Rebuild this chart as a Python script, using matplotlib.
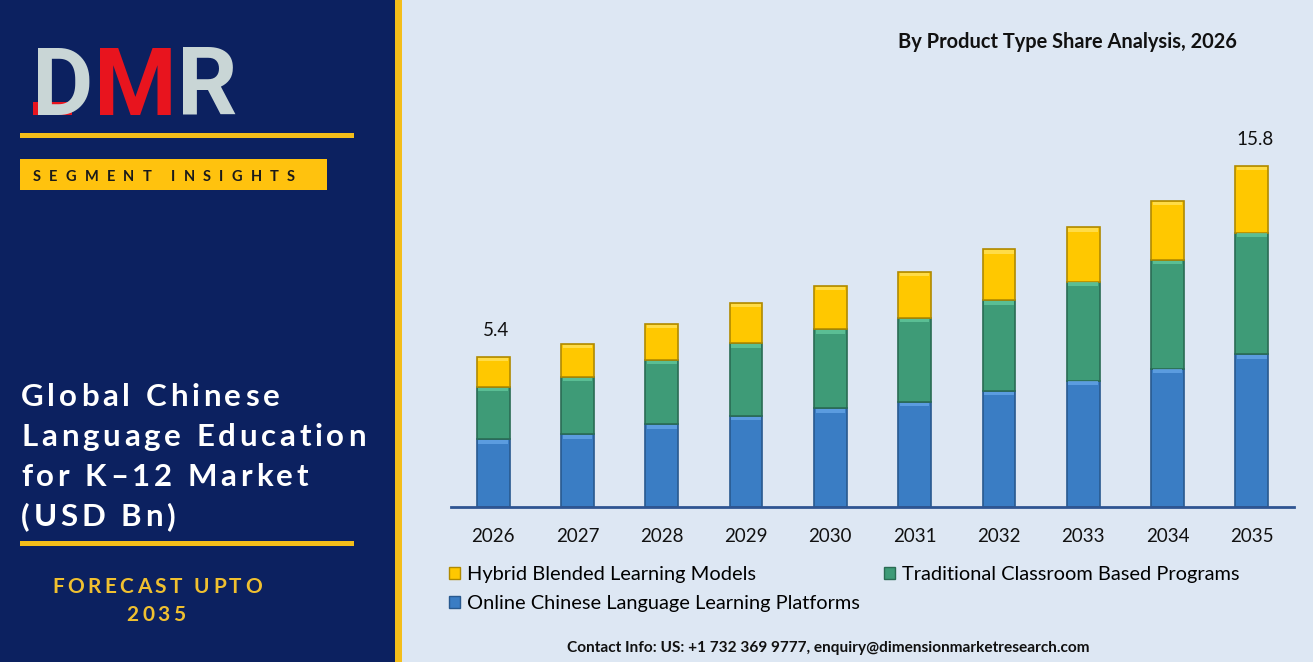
import matplotlib
matplotlib.use("Agg")
import matplotlib.pyplot as plt
from matplotlib.patches import Rectangle, Patch
import numpy as np

# data (USD Bn)
years = ["2026", "2027", "2028", "2029", "2030", "2031", "2032", "2033", "2034", "2035"]
online = [2.43, 2.61, 2.97, 3.28, 3.55, 3.78, 4.18, 4.55, 4.98, 5.50]
traditional = [1.90, 2.08, 2.32, 2.61, 2.85, 3.03, 3.27, 3.57, 3.92, 4.39]
hybrid = [1.07, 1.18, 1.30, 1.46, 1.56, 1.66, 1.83, 1.96, 2.14, 2.41]
total_labels = ["5.4", "", "", "", "", "", "", "", "", "15.8"]

W, H = 1313, 668
NAVY = "#0C2160"
GOLD = "#F4BE1A"
BG = "#DDE7F3"
FONT = ["Lato", "DejaVu Sans"]

fig = plt.figure(figsize=(W / 100, H / 100), dpi=100, facecolor=BG)
r = fig.canvas.get_renderer()


def fx(x):
    return x / W


def fy(y):
    return 1 - y / H


def rect(x0, y0, x1, y1, color):
    fig.patches.append(Rectangle((fx(x0), fy(y1)), fx(x1) - fx(x0), fy(y0) - fy(y1),
                                 transform=fig.transFigure, facecolor=color,
                                 edgecolor="none", zorder=0))


def spaced(x, y, s, size, color, gap, ha="left", weight="bold", family=FONT):
    # letter spaced text, one glyph at a time
    widths = []
    for ch in s:
        if ch == " ":
            widths.append(size * 100 / 72 * 0.25)
            continue
        t = fig.text(0, 0, ch, fontsize=size, fontweight=weight, family=family)
        widths.append(t.get_window_extent(r).width)
        t.remove()
    total = sum(widths) + gap * (len(s) - 1)
    if ha == "center":
        x = x - total / 2
    out = []
    for ch, w in zip(s, widths):
        if ch != " ":
            out.append(fig.text(fx(x), fy(y), ch, fontsize=size, fontweight=weight,
                                family=family, color=color, va="baseline", ha="left"))
        x += w + gap
    return out


# left panel
rect(0, 0, 395, H, NAVY)
rect(395, 0, 402, H, GOLD)
rect(0, 662, W, H, "white")

# logo
logo = spaced(32, 115, "DMR", 68, "#C9D6D6", 0.5, weight="bold", family=["Roboto"])
logo[1].set_color("#E8141E")
rect(33, 102, 72, 115, "#E8141E")

rect(20, 133, 354, 138, GOLD)
rect(20, 159, 327, 190, "#FFC20E")
spaced(33, 181, "SEGMENT INSIGHTS", 10.5, "#1A1A1A", 8.2)

title_lines = ["Global Chinese", "Language Education", "for K\u201312 Market", "(USD Bn)"]
for i, line in enumerate(title_lines):
    spaced(21, 406 + 40 * i, line, 22.5, "white", 3.8)

rect(20, 541, 354, 546, GOLD)
spaced(157, 593, "FORECAST UPTO", 15, "#F0C030", 3.4, ha="center")
spaced(156, 621, "2035", 15, "#F0C030", 3.4, ha="center")

# chart
px_per_unit = 27.72
ax_top, ax_base = 140, 506.7
ax = fig.add_axes([fx(451), fy(ax_base), fx(1294) - fx(451), (ax_base - ax_top) / H])
ax.set_facecolor("none")

x = np.arange(len(years))
bw = 0.39
series = [
    (online, "#3A7DC4", "#28598F", "#64A5E6", "Online Chinese Language Learning Platforms"),
    (traditional, "#3E9B77", "#2A6C53", "#62C79C", "Traditional Classroom Based Programs"),
    (hybrid, "#FFC800", "#B08A00", "#FFE25A", "Hybrid Blended Learning Models"),
]
bottom = np.zeros(len(years))
handles = {}
for vals, col, edge, hi, name in series:
    vals = np.array(vals)
    ax.bar(x, vals, bw, bottom=bottom, color=col, edgecolor=edge, linewidth=1.2, zorder=2)
    # bevel highlight at the top of each segment
    ax.bar(x, 0.13, bw * 0.9, bottom=bottom + vals - 0.16, color=hi, edgecolor="none",
           alpha=0.8, zorder=3)
    handles[name] = Patch(facecolor=col, edgecolor=edge, linewidth=1)
    bottom = bottom + vals

for xi, top, lab in zip(x, bottom, total_labels):
    if lab:
        ax.annotate(lab, (xi, top), xytext=(2, 19), textcoords="offset points",
                    ha="center", va="center", fontsize=13.5, family=FONT, color="#111111")

ax.set_xlim(-0.5, len(years) - 0.5)
ax.set_ylim(0, (ax_base - ax_top) / px_per_unit)
ax.set_xticks(x)
ax.set_xticklabels(years, fontsize=13.5, family=FONT, color="#111111")
ax.tick_params(axis="x", length=0, pad=15)
ax.set_yticks([])
for s in ["left", "right", "top"]:
    ax.spines[s].set_visible(False)
ax.spines["bottom"].set_color("#2E5592")
ax.spines["bottom"].set_linewidth(2)

order = ["Hybrid Blended Learning Models", "Online Chinese Language Learning Platforms",
         "Traditional Classroom Based Programs"]
fig.legend([handles[n] for n in order], order, loc="upper left",
           bbox_to_anchor=(fx(449), fy(566)), ncol=2, frameon=False,
           prop={"family": FONT, "size": 14.4}, handlelength=0.55, handleheight=0.55,
           handletextpad=0.35, columnspacing=1.2, labelspacing=0.58,
           borderpad=0, borderaxespad=0)

fig.text(fx(1067), fy(42), "By Product Type Share Analysis, 2026", fontsize=14.4,
         fontweight="bold", family=FONT, color="#111111", ha="center", va="center")
fig.text(fx(828), fy(648), "Contact Info: US: +1 732 369 9777, enquiry@dimensionmarketresearch.com",
         fontsize=11.1, fontweight="bold", family=FONT, color="#111111", ha="center", va="center")

fig.savefig("out.png", dpi=100, facecolor=BG)
